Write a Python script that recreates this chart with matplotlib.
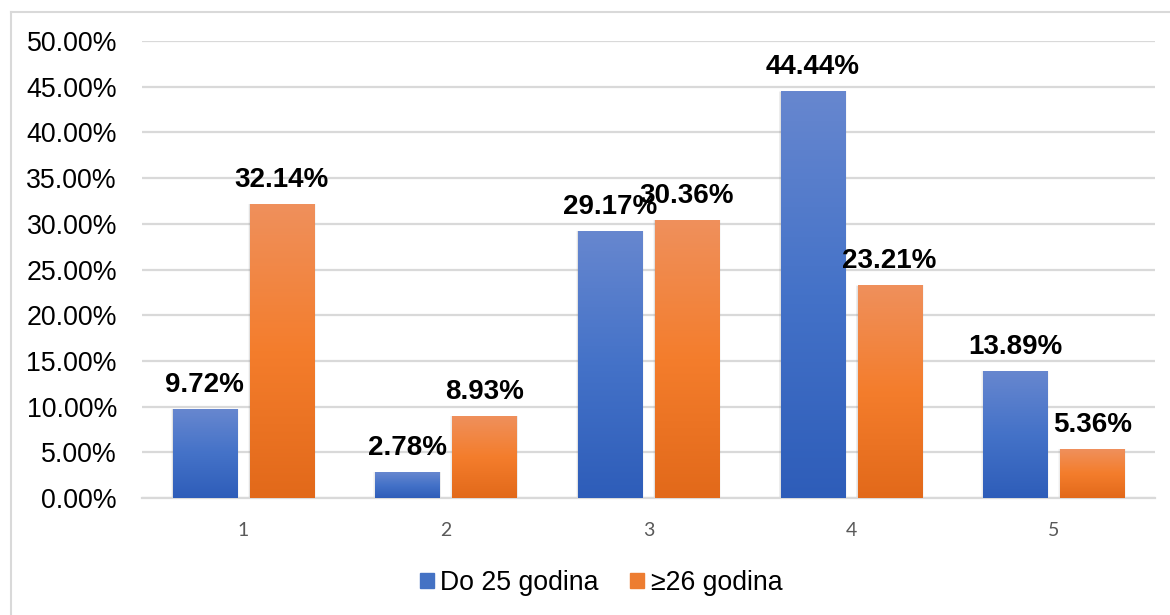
import numpy as np
import matplotlib.pyplot as plt
from matplotlib.colors import LinearSegmentedColormap
from matplotlib.lines import Line2D
from matplotlib.patches import Rectangle

plt.rcParams["font.family"] = ["Liberation Sans", "DejaVu Sans"]

categories = ["1", "2", "3", "4", "5"]
young = [9.72, 2.78, 29.17, 44.44, 13.89]
older = [32.14, 8.93, 30.36, 23.21, 5.36]
series_names = ["Do 25 godina", "\u226526 godina"]

blue_grad = LinearSegmentedColormap.from_list("blue_grad", ["#2e5db9", "#4472c8", "#6787cf"])
orange_grad = LinearSegmentedColormap.from_list("orange_grad", ["#e2691a", "#f47d2c", "#ef905c"])

fig = plt.figure(figsize=(11.7, 6.15), dpi=100)
ax = fig.add_axes([142 / 1170, 1 - 498 / 615, (1155 - 142) / 1170, (498 - 41) / 615])

x = np.arange(len(categories))
width = 0.316
offset = 0.19

grad = np.linspace(0, 1, 256).reshape(-1, 1)
for vals, cmap, solid in [(young, blue_grad, "#4472c4"), (older, orange_grad, "#ed7d31")]:
    xs = x - offset if cmap is blue_grad else x + offset
    bars = ax.bar(xs, np.array(vals) / 100, width, color=solid, zorder=3)
    for b, v in zip(bars, vals):
        bx, bw, bh = b.get_x(), b.get_width(), b.get_height()
        # soft shadow
        for k, a in [(0.025, 0.06), (0.015, 0.08), (0.007, 0.10)]:
            ax.add_patch(Rectangle((bx - k * 0.4, 0), bw + k * 0.8, bh + k * 0.02,
                                   color="#7f7f7f", alpha=a, lw=0, zorder=2))
        ax.imshow(grad, cmap=cmap, origin="lower", aspect="auto",
                  extent=[bx, bx + bw, 0, bh], zorder=4)
        ax.annotate(f"{v:.2f}%", (bx + bw / 2, bh), xytext=(0, 12.5),
                    textcoords="offset points", ha="center", va="baseline",
                    fontsize=20, fontweight="bold", color="black", zorder=5)

ax.set_xlim(-0.5, len(categories) - 0.5)
ax.set_ylim(0, 0.5)
ax.set_yticks(np.arange(0, 0.51, 0.05))
ax.set_yticklabels([f"{t * 100:.2f}%" for t in np.arange(0, 0.51, 0.05)], fontsize=19.3)
ax.set_xticks(x)
ax.set_xticklabels(categories, fontsize=14, color="#595959", family="Lato")
ax.tick_params(axis="y", length=0, pad=18)
ax.tick_params(axis="x", length=0, pad=17)
ax.grid(axis="y", color="#d9d9d9", lw=1.6, zorder=0)
ax.set_axisbelow(True)
for s in ["top", "right", "left"]:
    ax.spines[s].set_visible(False)
ax.spines["bottom"].set_color("#d9d9d9")
ax.spines["bottom"].set_linewidth(1.6)

handles = [Rectangle((0, 0), 1, 1, color="#4472c4"), Rectangle((0, 0), 1, 1, color="#ed7d31")]
fig.legend(handles, series_names, loc="center", bbox_to_anchor=(601 / 1170, 1 - 583 / 615),
           ncol=2, frameon=False, fontsize=19.2, handlelength=0.52, handleheight=0.52,
           handletextpad=0.26, columnspacing=1.16)

# chart frame
fig.add_artist(Line2D([11 / 1170, 1], [1 - 12 / 615] * 2, color="#d9d9d9", lw=1.5))
fig.add_artist(Line2D([11 / 1170] * 2, [0, 1 - 12 / 615], color="#d9d9d9", lw=1.5))

fig.savefig("out.png", dpi=100)
